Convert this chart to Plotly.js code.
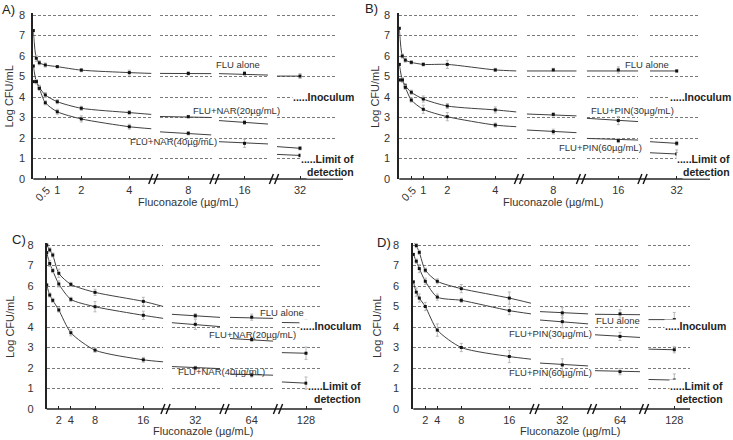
<!DOCTYPE html>
<html><head><meta charset="utf-8">
<script src="https://cdn.plot.ly/plotly-3.0.1.min.js"></script>
<style>html,body{margin:0;padding:0;background:#fff}#chart{width:733px;height:440px}</style>
</head><body><div id="chart"></div>
<script>
// ---------------- DATA ----------------
const concAB = [0, 0.125, 0.25, 0.5, 1, 2, 4, 8, 16, 32];
const concCD = [0, 0.5, 1, 2, 4, 8, 16, 32, 64, 128];
const ticksAB = [0.5, 1, 2, 4, 8, 16, 32];
const ticksCD = [2, 4, 8, 16, 32, 64, 128];
const yTicks = [0, 1, 2, 3, 4, 5, 6, 7, 8];

// fit arrays: [seg1 end, seg2 start, seg2 end, seg3 start, seg3 end, seg4 start]
const A_flu = [7.24, 5.89, 5.67, 5.56, 5.48, 5.31, 5.19, 5.15, 5.15, 5.02];
const A_flu_err = [0.05, 0.15, 0.1, 0.1, 0.05, 0.08, 0.12, 0.08, 0.1, 0.12];
const A_flu_fit = [5.15, 5.15, 5.14, 5.14, 5.07, 5.02];
const A_nar20 = [5.51, 4.75, 4.47, 4.10, 3.77, 3.45, 3.24, 3.04, 2.76, 1.50];
const A_nar20_err = [0.05, 0.1, 0.1, 0.12, 0.1, 0.1, 0.1, 0.06, 0.1, 0.08];
const A_nar20_fit = [3.15, 3.05, 3.0, 2.85, 2.68, 1.58];
const A_nar40 = [4.75, 4.75, 4.42, 3.72, 3.28, 2.93, 2.55, 2.23, 1.74, 1.15];
const A_nar40_err = [0.05, 0.1, 0.1, 0.1, 0.12, 0.15, 0.12, 0.08, 0.2, 0.08];
const A_nar40_fit = [2.45, 2.3, 2.15, 1.82, 1.71, 1.2];
const A_labels = ['FLU alone', 'FLU+NAR(20µg/mL)', 'FLU+NAR(40µg/mL)'];

const B_flu = [7.35, 6.0, 5.8, 5.69, 5.59, 5.59, 5.32, 5.32, 5.32, 5.27];
const B_flu_err = [0.05, 0.1, 0.1, 0.08, 0.08, 0.2, 0.08, 0.08, 0.15, 0.05];
const B_flu_fit = [5.27, 5.27, 5.27, 5.27, 5.27, 5.27];
const B_pin30 = [5.59, 4.83, 4.55, 4.23, 3.9, 3.56, 3.37, 3.15, 2.85, 1.74];
const B_pin30_err = [0.05, 0.1, 0.1, 0.1, 0.15, 0.12, 0.15, 0.08, 0.2, 0.1];
const B_pin30_fit = [3.27, 3.17, 3.08, 2.96, 2.8, 1.82];
const B_pin60 = [4.83, 4.83, 4.47, 3.85, 3.4, 3.04, 2.63, 2.31, 1.87, 1.22];
const B_pin60_err = [0.05, 0.1, 0.1, 0.1, 0.2, 0.2, 0.1, 0.12, 0.1, 0.2];
const B_pin60_fit = [2.55, 2.39, 2.26, 1.98, 1.9, 1.28];
const B_labels = ['FLU alone', 'FLU+PIN(30µg/mL)', 'FLU+PIN(60µg/mL)'];

const C_flu = [8.0, 7.76, 7.51, 6.62, 6.08, 5.69, 5.25, 4.55, 4.48, 4.2];
const C_flu_err = [0.05, 0.1, 0.1, 0.2, 0.1, 0.15, 0.2, 0.1, 0.15, 0.15];
const C_flu_fit = [5.0, 4.62, 4.47, 4.47, 4.42, 4.22];
const C_nar20 = [7.63, 7.1, 6.75, 6.1, 5.35, 4.99, 4.57, 4.13, 3.39, 2.72];
const C_nar20_err = [0.05, 0.15, 0.1, 0.15, 0.1, 0.25, 0.2, 0.25, 0.1, 0.3];
const C_nar20_fit = [4.42, 4.21, 4.02, 3.44, 3.31, 2.75];
const C_nar40 = [6.05, 5.56, 5.3, 4.83, 3.72, 2.87, 2.4, 2.0, 1.66, 1.26];
const C_nar40_err = [0.05, 0.1, 0.1, 0.1, 0.15, 0.1, 0.12, 0.08, 0.1, 0.3];
const C_nar40_fit = [2.3, 2.07, 1.97, 1.7, 1.65, 1.32];
const C_labels = ['FLU alone', 'FLU+NAR(20µg/mL)', 'FLU+NAR(40µg/mL)'];

const D_flu = [8.2, 7.97, 7.64, 6.77, 6.23, 5.87, 5.41, 4.69, 4.64, 4.36];
const D_flu_err = [0.05, 0.1, 0.1, 0.1, 0.12, 0.2, 0.3, 0.25, 0.2, 0.35];
const D_flu_fit = [5.16, 4.75, 4.64, 4.62, 4.6, 4.36];
const D_pin30 = [7.54, 7.21, 6.85, 6.23, 5.46, 5.3, 4.8, 4.26, 3.54, 2.89];
const D_pin30_err = [0.05, 0.1, 0.2, 0.15, 0.15, 0.1, 0.2, 0.3, 0.2, 0.15];
const D_pin30_fit = [4.64, 4.34, 4.15, 3.62, 3.49, 2.92];
const D_pin60 = [6.2, 5.7, 5.41, 5.0, 3.85, 3.0, 2.56, 2.15, 1.82, 1.41];
const D_pin60_err = [0.05, 0.2, 0.2, 0.2, 0.3, 0.2, 0.3, 0.3, 0.15, 0.3];
const D_pin60_fit = [2.43, 2.24, 2.1, 1.87, 1.82, 1.44];
const D_labels = ['FLU alone', 'FLU+PIN(30µg/mL)', 'FLU+PIN(60µg/mL)'];

const panelLetters = ['A)', 'B)', 'C)', 'D)'];
const xTitle = 'Fluconazole (µg/mL)';
const yTitle = 'Log CFU/mL';
const inoculumText = '.....Inoculum';
const limitText = ['.....Limit of', 'detection'];

// ---------------- LAYOUT GEOMETRY (pixels) ----------------
const W = 733, H = 440;
const FONT = 'Liberation Sans, Arial, sans-serif';
const geoms = [
  {yAx:33.3, y0:179, y8:15, s1End:151.5, scale:24,
   segs:[[160,211.5,188.3],[219,268,244.5],[277,337,300]], breaks:[153.3,214.5,274], axEnd:343,
   yStand:4, letter:[8,10], xT:[188,202], yT:[8.5,97],
   lab:[[238,65],[236,110],[173,141]], inoc:[355,96.5], lim:[355,158.5,171.5]},
  {yAx:399.3, y0:179, y8:15, s1End:516.5, scale:24,
   segs:[[526.7,576.7,553.3],[586.7,638.3,618.3],[650,700,676.7]], breaks:[519,581,642.5], axEnd:710,
   yStand:5, letter:[371,8], xT:[553,202], yT:[375,97],
   lab:[[647,64],[632,111],[600,147]], inoc:[732,96.5], lim:[731,158.5,171.5]},
  {yAx:46.7, y0:409, y8:245, s1End:163.3, scale:6.04,
   segs:[[171.7,220,195.3],[230,273.3,251.7],[281.7,321.7,306]], breaks:[165.5,224.5,278], axEnd:322,
   yStand:9, letter:[19,240], xT:[203,431], yT:[10,327],
   lab:[[282,312],[252,334],[221,371]], inoc:[362,325.5], lim:[362,386,398.5]},
  {yAx:413.3, y0:409, y8:245, s1End:531, scale:6.0,
   segs:[[540,588.3,562.3],[595,640,620],[648.3,690,674.3]], breaks:[534.5,592,644], axEnd:690,
   yStand:10, letter:[384,242], xT:[570,431], yT:[377,327],
   lab:[[618,320],[550,333],[550,372]], inoc:[727,325.5], lim:[724,386,398.5]}
];

const panels = [
  {conc:concAB, ticks:ticksAB, labels:A_labels, series:[[A_flu,A_flu_err,A_flu_fit],[A_nar20,A_nar20_err,A_nar20_fit],[A_nar40,A_nar40_err,A_nar40_fit]]},
  {conc:concAB, ticks:ticksAB, labels:B_labels, series:[[B_flu,B_flu_err,B_flu_fit],[B_pin30,B_pin30_err,B_pin30_fit],[B_pin60,B_pin60_err,B_pin60_fit]]},
  {conc:concCD, ticks:ticksCD, labels:C_labels, series:[[C_flu,C_flu_err,C_flu_fit],[C_nar20,C_nar20_err,C_nar20_fit],[C_nar40,C_nar40_err,C_nar40_fit]]},
  {conc:concCD, ticks:ticksCD, labels:D_labels, series:[[D_flu,D_flu_err,D_flu_fit],[D_pin30,D_pin30_err,D_pin30_fit],[D_pin60,D_pin60_err,D_pin60_fit]]}
];

const px = x => x / W, py = y => 1 - y / H;
const LINE = '#404040', MARK = '#111', ERR = '#b8b8b8', TXT = '#333';

const traces = [], shapes = [], annos = [];
const layout = {
  width: W, height: H, margin: {l:0, r:0, t:0, b:0},
  paper_bgcolor: '#fff', plot_bgcolor: 'rgba(0,0,0,0)', showlegend: false,
  font: {family: FONT, size: 11, color: TXT}
};

function ann(text, x, y, opts) {
  annos.push(Object.assign({text, x: px(x), y: py(y), xref:'paper', yref:'paper',
    xanchor:'center', yanchor:'middle', showarrow:false,
    font:{family:FONT, size:9.5, color:TXT}}, opts || {}));
}

panels.forEach((p, pi) => {
  const g = geoms[pi];
  const yId = pi === 0 ? 'y' : 'y' + (pi + 1);
  const yName = pi === 0 ? 'yaxis' : 'yaxis' + (pi + 1);
  const pxPerY = (g.y0 - g.y8) / 8;
  const yTop = 8.1;
  const xIds = [], xNames = [];
  for (let s = 0; s < 4; s++) {
    const n = pi * 4 + s + 1;
    xIds.push(n === 1 ? 'x' : 'x' + n);
    xNames.push(n === 1 ? 'xaxis' : 'xaxis' + n);
  }
  layout[yName] = {
    domain: [py(g.y0), py(g.y0 - yTop * pxPerY)], range: [0, yTop], anchor: xIds[0],
    tickvals: yTicks, ticks: '', showline: true, linewidth: 2, linecolor: '#222',
    showgrid: true, gridcolor: '#7a7a7a', gridwidth: 1, griddash: '3px,2px',
    zeroline: false, tickfont: {family:FONT, size:11, color:TXT}, ticklabelstandoff: g.yStand,
    fixedrange: true
  };
  const segTicks = p.ticks.slice(-3);
  const s1Max = (g.s1End - g.yAx) / g.scale;
  const ranges = [[0, s1Max]];
  const domains = [[g.yAx, g.s1End]];
  g.segs.forEach((s, k) => {
    const t = segTicks[k];
    ranges.push([t - (s[2] - s[0]) / g.scale, t + (s[1] - s[2]) / g.scale]);
    domains.push([s[0], s[1]]);
  });
  const s1Ticks = p.ticks.slice(0, -3);
  for (let s = 0; s < 4; s++) {
    const tv = s === 0 ? s1Ticks : [segTicks[s - 1]];
    layout[xNames[s]] = {
      domain: [px(domains[s][0]), px(domains[s][1])], range: ranges[s], anchor: yId,
      tickvals: tv, ticktext: tv.map(v => v === 0.5 ? '' : String(v)),
      ticks: 'inside', ticklen: 3, tickwidth: 1, tickcolor: '#222',
      showline: false, showgrid: false, zeroline: false, tickangle: 0,
      tickfont: {family:FONT, size:11, color:TXT}, ticklabelstandoff: 3, fixedrange: true
    };
  }
  if (s1Ticks.indexOf(0.5) >= 0) {
    annos.push({text:'0.5', x:0.5, xref:xIds[0], y:py(g.y0 + 15), yref:'paper', xshift:-3,
      textangle:-45, showarrow:false, xanchor:'center', yanchor:'middle',
      font:{family:FONT, size:11, color:TXT}});
  }

  // series
  p.series.forEach(([ys, es, fit]) => {
    const idx1 = p.conc.map((c, i) => i).filter(i => p.conc[i] <= s1Max);
    traces.push({x: idx1.map(i => p.conc[i]).concat([s1Max]), y: idx1.map(i => ys[i]).concat([fit[0]]),
      xaxis: xIds[0], yaxis: yId, mode: 'lines', line: {shape:'spline', smoothing:0.7, color:LINE, width:1},
      hoverinfo:'skip', cliponaxis:false});
    traces.push({x: idx1.map(i => p.conc[i]), y: idx1.map(i => ys[i]), xaxis: xIds[0], yaxis: yId,
      mode:'markers', marker:{symbol:'square', size:3, color:MARK},
      error_y:{type:'data', array: idx1.map(i => es[i]), visible:true, color:ERR, thickness:1, width:1.5},
      cliponaxis:false});
    for (let k = 1; k <= 3; k++) {
      const t = segTicks[k - 1];
      const i = p.conc.indexOf(t);
      const lx = k < 3 ? [ranges[k][0], ranges[k][1]] : [ranges[k][0], t];
      const ly = k < 3 ? [fit[2 * k - 1], fit[2 * k]] : [fit[5], ys[i]];
      traces.push({x: lx, y: ly, xaxis: xIds[k], yaxis: yId, mode:'lines',
        line:{color:LINE, width:1}, hoverinfo:'skip', cliponaxis:false});
      traces.push({x:[t], y:[ys[i]], xaxis: xIds[k], yaxis: yId, mode:'markers',
        marker:{symbol:'square', size:3, color:MARK},
        error_y:{type:'data', array:[es[i]], visible:true, color:ERR, thickness:1, width:1.5},
        cliponaxis:false});
    }
  });

  // x axis line and breaks
  shapes.push({type:'line', xref:'paper', yref:'paper', x0:px(g.yAx), x1:px(g.axEnd), y0:py(g.y0), y1:py(g.y0),
    line:{color:'#222', width:1.3}});
  g.breaks.forEach(b => {
    [-2.6, 2.6].forEach(o => {
      shapes.push({type:'line', xref:'paper', yref:'paper',
        x0:px(b + o - 2), y0:py(g.y0 + 5), x1:px(b + o + 2), y1:py(g.y0 - 5),
        line:{color:'#111', width:1.4}});
    });
  });

  // texts
  ann(panelLetters[pi], g.letter[0], g.letter[1], {font:{family:FONT, size:13, color:'#222'}});
  ann(xTitle, g.xT[0], g.xT[1], {font:{family:FONT, size:11, color:TXT}});
  ann(yTitle, g.yT[0], g.yT[1], {textangle:-90, font:{family:FONT, size:11, color:TXT}});
  p.labels.forEach((t, j) => ann(t, g.lab[j][0], g.lab[j][1]));
  const bold = {family:FONT, size:10.5, color:'#222', weight:'bold'};
  ann('<b>' + inoculumText + '</b>', g.inoc[0], g.inoc[1], {xanchor:'right', font:bold, bgcolor:'#fff', borderpad:0});
  ann('<b>' + limitText[0] + '</b>', g.lim[0], g.lim[1], {xanchor:'right', font:bold, bgcolor:'#fff', borderpad:0});
  ann('<b>' + limitText[1] + '</b>', g.lim[0], g.lim[2], {xanchor:'right', font:bold, bgcolor:'#fff', borderpad:0});
});

layout.shapes = shapes;
layout.annotations = annos;
Plotly.newPlot('chart', traces, layout, {staticPlot:true, displayModeBar:false});
</script></body></html>
